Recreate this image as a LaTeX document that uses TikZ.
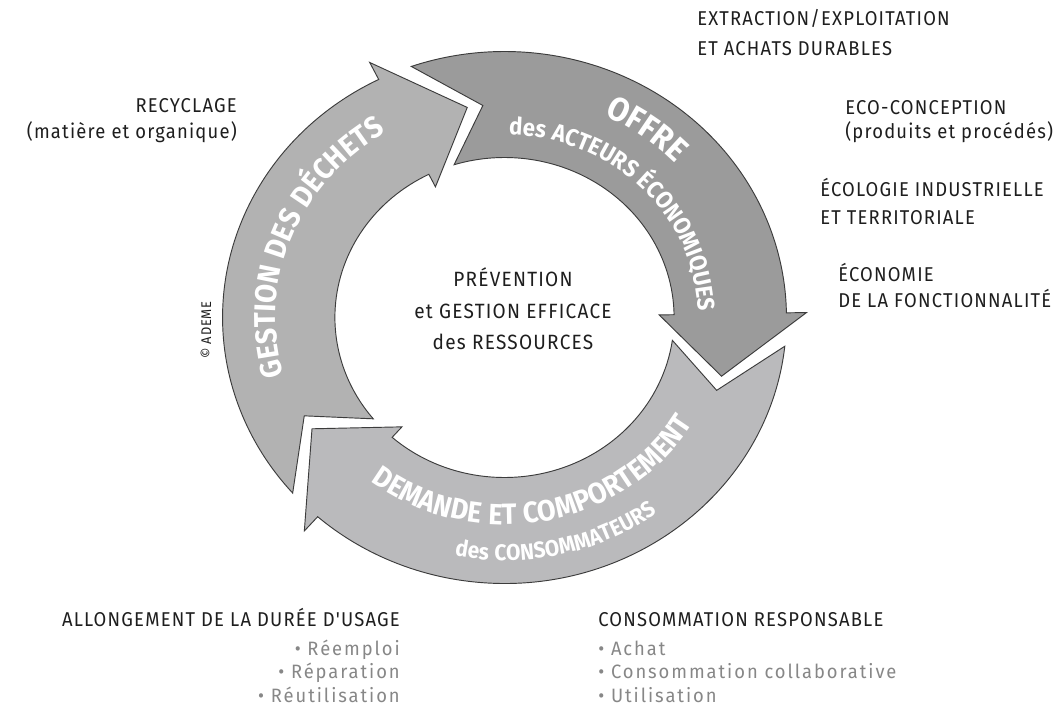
\documentclass[tikz,border=0pt]{standalone}
\usepackage{fontspec}
\setmainfont{Fira Sans}
\newfontfamily\labfont{Fira Sans}[FakeStretch=0.92, LetterSpace=4]
\newfontfamily\sidefont{Fira Sans}[FakeStretch=0.92, LetterSpace=6]
\newfontfamily\bulfont{Fira Sans}[FakeStretch=0.95, LetterSpace=10]
\usetikzlibrary{decorations.text}
\definecolor{offreC}{RGB}{155,155,155}
\definecolor{gestionC}{RGB}{178,178,178}
\definecolor{demandeC}{RGB}{186,186,188}
\definecolor{inkC}{RGB}{30,30,30}
\definecolor{softC}{RGB}{135,135,135}
\definecolor{edgeC}{RGB}{60,60,60}
\def\ROut{266}\def\RIn{160}\def\RMid{213}\def\RBo{285}\def\RBi{146}
\newcommand\ringarrow[3]{%
  \pgfmathsetmacro\aOut{#1-7.2}%
  \pgfmathsetmacro\aIn{#1-9.2}%
  \pgfmathsetmacro\aV{#1-21}%
  \pgfmathsetmacro\aT{#2-17}%
  \path[arrowshape, fill=#3] (\aOut:\ROut) arc[start angle=\aOut, end angle=#2, radius=\ROut]
    -- (#2:\RBo) -- (\aT:\RMid) -- (#2:\RBi) -- (#2:\RIn)
    arc[start angle=#2, end angle=\aIn, radius=\RIn] -- (\aV:\RMid) -- cycle;}
\tikzset{
  arrowshape/.style={draw=edgeC, line width=0.7pt, line join=miter},
  sidetxt/.style={font=\sidefont\fontsize{15}{18}\selectfont, text=inkC, inner sep=0pt},
  midtxt/.style={font=\sidefont\fontsize{15.5}{18}\selectfont, text=inkC, inner sep=0pt, anchor=base},
  bullettxt/.style={font=\bulfont\fontsize{14.5}{17}\selectfont, text=softC, inner sep=0pt},
}
\begin{document}
\begin{tikzpicture}[x=0.75pt,y=0.75pt]
\useasboundingbox (0,0) rectangle (1059,722);
\fill[white] (0,0) rectangle (1059,722);
\begin{scope}[shift={(504.5,404.5)}, xscale=1.06]
  \ringarrow{116.5}{1}{offreC}
  \ringarrow{1}{-131.5}{demandeC}
  \ringarrow{228.5}{116.5}{gestionC}
  \path[decorate, decoration={text along path, text align=center,
    text={|\color{white}\labfont\bfseries\fontsize{22.5}{24}\selectfont|GESTION DES DÉCHETS}}]
    (207:216) arc[start angle=207, end angle=110, radius=216];
  \path[decorate, decoration={text along path, text align=center,
    text={|\color{white}\labfont\bfseries\fontsize{25}{27}\selectfont|OFFRE}}]
    (84:223) arc[start angle=84, end angle=24, radius=223];
  \path[decorate, decoration={text along path, text align=center,
    text={|\color{white}\labfont\bfseries\fontsize{18}{20}\selectfont|des ACTEURS ÉCONOMIQUES}}]
    (99:183) arc[start angle=99, end angle=-9, radius=183];
  \path[decorate, decoration={text along path, text align=center,
    text={|\color{white}\labfont\bfseries\fontsize{22}{24}\selectfont|DEMANDE ET COMPORTEMENT}}]
    (219:207) arc[start angle=219, end angle=343, radius=207];
  \path[decorate, decoration={text along path, text align=center,
    text={|\color{white}\labfont\bfseries\fontsize{17}{19}\selectfont|des CONSOMMATEURS}}]
    (222:243) arc[start angle=222, end angle=344, radius=243];
\end{scope}
\node[sidetxt, anchor=base west] (ext1) at (697,696.5) {EXTRACTION/EXPLOITATION};
\node[sidetxt, anchor=base west] (ext2) at (697,666.5) {ET ACHATS DURABLES};
\node[sidetxt, anchor=base west] (eco1) at (845,607.5) {ECO-CONCEPTION};
\node[sidetxt, anchor=base west] (eco2) at (845,583) {(produits et procédés)};
\node[sidetxt, anchor=base west] (ind1) at (820,525.5) {ÉCOLOGIE INDUSTRIELLE};
\node[sidetxt, anchor=base west] (ind2) at (820,497.5) {ET TERRITORIALE};
\node[sidetxt, anchor=base west] (fon1) at (838,440.5) {ÉCONOMIE};
\node[sidetxt, anchor=base west] (fon2) at (838,414.5) {DE LA FONCTIONNALITÉ};
\node[sidetxt, anchor=base east] (rec1) at (237,609.5) {RECYCLAGE};
\node[sidetxt, anchor=base east] (rec2) at (237,583) {(matière et organique)};
\node[sidetxt, font=\sidefont\fontsize{10.5}{12}\selectfont, rotate=90] (ademe) at (206,392) {© ADEME};
\node[midtxt] (mid1) at (513,435.5) {PRÉVENTION};
\node[midtxt] (mid2) at (513,403.5) {et GESTION EFFICACE};
\node[midtxt] (mid3) at (513,372.5) {des RESSOURCES};
\node[sidetxt, anchor=base east] (all0) at (400,95.5) {ALLONGEMENT DE LA DURÉE D'USAGE};
\node[bullettxt, anchor=base east] (all1) at (400,67) {• Réemploi};
\node[bullettxt, anchor=base east] (all2) at (400,44) {• Réparation};
\node[bullettxt, anchor=base east] (all3) at (400,20) {• Réutilisation};
\node[sidetxt, anchor=base west] (con0) at (598,95.5) {CONSOMMATION RESPONSABLE};
\node[bullettxt, anchor=base west] (con1) at (598,67) {• Achat};
\node[bullettxt, anchor=base west] (con2) at (598,44) {• Consommation collaborative};
\node[bullettxt, anchor=base west] (con3) at (598,20) {• Utilisation};
\end{tikzpicture}
\end{document}
